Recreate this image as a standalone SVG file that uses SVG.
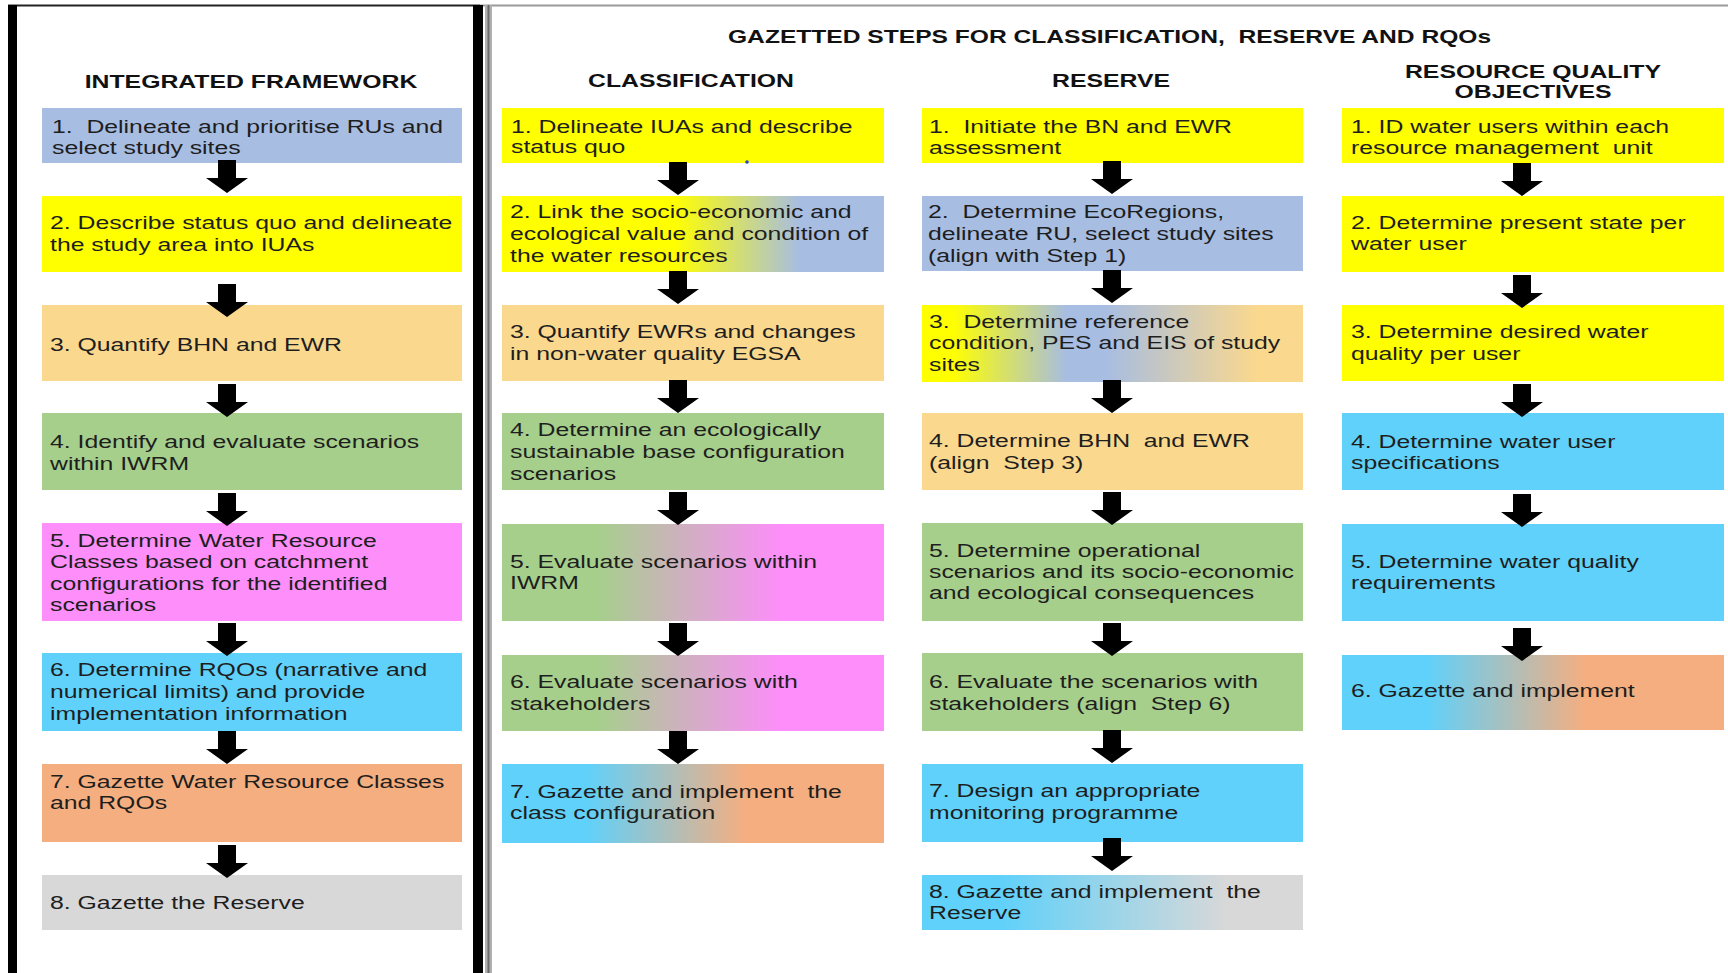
<svg xmlns="http://www.w3.org/2000/svg" xmlns:xlink="http://www.w3.org/1999/xlink" width="1728" height="973" viewBox="0 0 1728 973">
<style>
text{font-family:"Liberation Sans",Arial,sans-serif;font-size:18.5px;fill:#1e1e1e}
.h{font-weight:bold;fill:#111}
.mid{text-anchor:middle}
.bl{fill:#a7bde2}.ye{fill:#ffff00}.tn{fill:#fad88e}.gr{fill:#a6cf8c}.pk{fill:#fd8efa}.sk{fill:#5fd1fa}.or{fill:#f5ae80}.gy{fill:#d8d8d8}
.arrow{fill:#000}
</style>
<defs>
<path id="arr" d="M-9,0 H9 V18 H21 L0,33 L-21,18 H-9 Z"/>
<linearGradient id="gC2" x1="0" y1="0" x2="1" y2="0"><stop offset="0" stop-color="#ffff00"/><stop offset="0.45" stop-color="#ffff00"/><stop offset="0.78" stop-color="#a7bde2"/><stop offset="1" stop-color="#a7bde2"/></linearGradient>
<linearGradient id="gGP" x1="0" y1="0" x2="1" y2="0"><stop offset="0" stop-color="#a6cf8c"/><stop offset="0.25" stop-color="#a6cf8c"/><stop offset="0.73" stop-color="#fd8efa"/><stop offset="1" stop-color="#fd8efa"/></linearGradient>
<linearGradient id="gSO" x1="0" y1="0" x2="1" y2="0"><stop offset="0" stop-color="#5fd1fa"/><stop offset="0.22" stop-color="#5fd1fa"/><stop offset="0.64" stop-color="#f5ae80"/><stop offset="1" stop-color="#f5ae80"/></linearGradient>
<linearGradient id="gR3" x1="0" y1="0" x2="1" y2="0"><stop offset="0" stop-color="#ffff00"/><stop offset="0.08" stop-color="#ffff00"/><stop offset="0.38" stop-color="#a7bde2"/><stop offset="0.48" stop-color="#a7bde2"/><stop offset="0.88" stop-color="#fad88e"/><stop offset="1" stop-color="#fad88e"/></linearGradient>
<linearGradient id="gR8" x1="0" y1="0" x2="1" y2="0"><stop offset="0" stop-color="#5fd1fa"/><stop offset="0.2" stop-color="#5fd1fa"/><stop offset="0.8" stop-color="#d8d8d8"/><stop offset="1" stop-color="#d8d8d8"/></linearGradient>
</defs>
<rect width="1728" height="973" fill="#ffffff"/>

<g id="frame">
<line x1="8" y1="5.5" x2="480" y2="5.5" stroke="#222" stroke-width="2"/>
<line x1="480" y1="5.5" x2="1728" y2="5.5" stroke="#9a9a9a" stroke-width="2"/>
<rect x="8" y="5" width="9" height="968" fill="#000"/>
<rect x="473" y="5" width="10" height="968" fill="#000"/>
<rect x="485" y="5" width="7" height="968" fill="#b0b0b0"/>
<line x1="488.5" y1="5" x2="488.5" y2="973" stroke="#6a6a6a" stroke-width="2"/>
</g>

<g id="titles">
<text class="h" transform="translate(728,0) scale(1.33,1)" x="0" y="43" xml:space="preserve">GAZETTED STEPS FOR CLASSIFICATION,  RESERVE AND RQOs</text>
<text class="h mid" transform="translate(251,0) scale(1.34,1)" x="0" y="88">INTEGRATED FRAMEWORK</text>
<text class="h mid" transform="translate(691,0) scale(1.34,1)" x="0" y="87">CLASSIFICATION</text>
<text class="h mid" transform="translate(1111,0) scale(1.34,1)" x="0" y="87">RESERVE</text>
<text class="h mid" transform="translate(1533,0) scale(1.34,1)" x="0" y="78">RESOURCE QUALITY</text>
<text class="h mid" transform="translate(1533,0) scale(1.34,1)" x="0" y="98">OBJECTIVES</text>
</g>

<g id="if-1"><rect class="bl" x="42" y="108" width="420" height="55"/><text transform="translate(52,0) scale(1.34,1)" xml:space="preserve"><tspan x="0" y="133">1.  Delineate and prioritise RUs and</tspan><tspan x="0" y="154">select study sites</tspan></text></g>
<g id="if-2"><rect class="ye" x="42" y="196" width="420" height="76"/><text transform="translate(50,0) scale(1.34,1)"><tspan x="0" y="229">2. Describe status quo and delineate</tspan><tspan x="0" y="251">the study area into IUAs</tspan></text></g>
<g id="if-3"><rect class="tn" x="42" y="305" width="420" height="76"/><text transform="translate(50,0) scale(1.34,1)"><tspan x="0" y="351">3. Quantify BHN and EWR</tspan></text></g>
<g id="if-4"><rect class="gr" x="42" y="413" width="420" height="77"/><text transform="translate(50,0) scale(1.34,1)"><tspan x="0" y="448">4. Identify and evaluate scenarios</tspan><tspan x="0" y="470">within IWRM</tspan></text></g>
<g id="if-5"><rect class="pk" x="42" y="523" width="420" height="98"/><text transform="translate(50,0) scale(1.34,1)"><tspan x="0" y="547">5. Determine Water Resource</tspan><tspan x="0" y="568">Classes based on catchment</tspan><tspan x="0" y="590">configurations for the identified</tspan><tspan x="0" y="611">scenarios</tspan></text></g>
<g id="if-6"><rect class="sk" x="42" y="653" width="420" height="78"/><text transform="translate(50,0) scale(1.34,1)"><tspan x="0" y="676">6. Determine RQOs (narrative and</tspan><tspan x="0" y="698">numerical limits) and provide</tspan><tspan x="0" y="720">implementation information</tspan></text></g>
<g id="if-7"><rect class="or" x="42" y="764" width="420" height="78"/><text transform="translate(50,0) scale(1.34,1)"><tspan x="0" y="788">7. Gazette Water Resource Classes</tspan><tspan x="0" y="809">and RQOs</tspan></text></g>
<g id="if-8"><rect class="gy" x="42" y="875" width="420" height="55"/><text transform="translate(50,0) scale(1.34,1)"><tspan x="0" y="909">8. Gazette the Reserve</tspan></text></g>

<g id="cl-1"><rect class="ye" x="502" y="108" width="382" height="55"/><text transform="translate(511,0) scale(1.34,1)"><tspan x="0" y="133">1. Delineate IUAs and describe</tspan><tspan x="0" y="153">status quo</tspan></text></g>
<g id="cl-2"><rect fill="url(#gC2)" x="502" y="196" width="382" height="76"/><text transform="translate(510,0) scale(1.34,1)"><tspan x="0" y="218">2. Link the socio-economic and</tspan><tspan x="0" y="240">ecological value and condition of</tspan><tspan x="0" y="262">the water resources</tspan></text></g>
<g id="cl-3"><rect class="tn" x="502" y="305" width="382" height="76"/><text transform="translate(510,0) scale(1.34,1)"><tspan x="0" y="338">3. Quantify EWRs and changes</tspan><tspan x="0" y="360">in non-water quality EGSA</tspan></text></g>
<g id="cl-4"><rect class="gr" x="502" y="413" width="382" height="77"/><text transform="translate(510,0) scale(1.34,1)"><tspan x="0" y="436">4. Determine an ecologically</tspan><tspan x="0" y="458">sustainable base configuration</tspan><tspan x="0" y="480">scenarios</tspan></text></g>
<g id="cl-5"><rect fill="url(#gGP)" x="502" y="524" width="382" height="97"/><text transform="translate(510,0) scale(1.34,1)"><tspan x="0" y="568">5. Evaluate scenarios within</tspan><tspan x="0" y="589">IWRM</tspan></text></g>
<g id="cl-6"><rect fill="url(#gGP)" x="502" y="655" width="382" height="76"/><text transform="translate(510,0) scale(1.34,1)"><tspan x="0" y="688">6. Evaluate scenarios with</tspan><tspan x="0" y="710">stakeholders</tspan></text></g>
<g id="cl-7"><rect fill="url(#gSO)" x="502" y="764" width="382" height="79"/><text transform="translate(510,0) scale(1.34,1)" xml:space="preserve"><tspan x="0" y="798">7. Gazette and implement  the</tspan><tspan x="0" y="819">class configuration</tspan></text></g>
<circle cx="747" cy="162" r="1.8" fill="#2a3fd0"/>

<g id="re-1"><rect class="ye" x="922" y="108" width="381" height="55"/><text transform="translate(929,0) scale(1.34,1)" xml:space="preserve"><tspan x="0" y="133">1.  Initiate the BN and EWR</tspan><tspan x="0" y="154">assessment</tspan></text></g>
<g id="re-2"><rect class="bl" x="922" y="196" width="381" height="75"/><text transform="translate(928,0) scale(1.34,1)" xml:space="preserve"><tspan x="0" y="218">2.  Determine EcoRegions,</tspan><tspan x="0" y="240">delineate RU, select study sites</tspan><tspan x="0" y="262">(align with Step 1)</tspan></text></g>
<g id="re-3"><rect fill="url(#gR3)" x="922" y="305" width="381" height="77"/><text transform="translate(929,0) scale(1.34,1)" xml:space="preserve"><tspan x="0" y="328">3.  Determine reference</tspan><tspan x="0" y="349">condition, PES and EIS of study</tspan><tspan x="0" y="371">sites</tspan></text></g>
<g id="re-4"><rect class="tn" x="922" y="413" width="381" height="77"/><text transform="translate(929,0) scale(1.34,1)" xml:space="preserve"><tspan x="0" y="447">4. Determine BHN  and EWR</tspan><tspan x="0" y="469">(align  Step 3)</tspan></text></g>
<g id="re-5"><rect class="gr" x="922" y="523" width="381" height="98"/><text transform="translate(929,0) scale(1.34,1)"><tspan x="0" y="557">5. Determine operational</tspan><tspan x="0" y="578">scenarios and its socio-economic</tspan><tspan x="0" y="599">and ecological consequences</tspan></text></g>
<g id="re-6"><rect class="gr" x="922" y="653" width="381" height="78"/><text transform="translate(929,0) scale(1.34,1)" xml:space="preserve"><tspan x="0" y="688">6. Evaluate the scenarios with</tspan><tspan x="0" y="710">stakeholders (align  Step 6)</tspan></text></g>
<g id="re-7"><rect class="sk" x="922" y="764" width="381" height="78"/><text transform="translate(929,0) scale(1.34,1)"><tspan x="0" y="797">7. Design an appropriate</tspan><tspan x="0" y="819">monitoring programme</tspan></text></g>
<g id="re-8"><rect fill="url(#gR8)" x="922" y="875" width="381" height="55"/><text transform="translate(929,0) scale(1.34,1)" xml:space="preserve"><tspan x="0" y="898">8. Gazette and implement  the</tspan><tspan x="0" y="919">Reserve</tspan></text></g>

<g id="rq-1"><rect class="ye" x="1342" y="108" width="382" height="55"/><text transform="translate(1351,0) scale(1.34,1)" xml:space="preserve"><tspan x="0" y="133">1. ID water users within each</tspan><tspan x="0" y="154">resource management  unit</tspan></text></g>
<g id="rq-2"><rect class="ye" x="1342" y="196" width="382" height="76"/><text transform="translate(1351,0) scale(1.34,1)"><tspan x="0" y="229">2. Determine present state per</tspan><tspan x="0" y="250">water user</tspan></text></g>
<g id="rq-3"><rect class="ye" x="1342" y="305" width="382" height="76"/><text transform="translate(1351,0) scale(1.34,1)"><tspan x="0" y="338">3. Determine desired water</tspan><tspan x="0" y="360">quality per user</tspan></text></g>
<g id="rq-4"><rect class="sk" x="1342" y="413" width="382" height="77"/><text transform="translate(1351,0) scale(1.34,1)"><tspan x="0" y="448">4. Determine water user</tspan><tspan x="0" y="469">specifications</tspan></text></g>
<g id="rq-5"><rect class="sk" x="1342" y="524" width="382" height="97"/><text transform="translate(1351,0) scale(1.34,1)"><tspan x="0" y="568">5. Determine water quality</tspan><tspan x="0" y="589">requirements</tspan></text></g>
<g id="rq-6"><rect fill="url(#gSO)" x="1342" y="655" width="382" height="75"/><text transform="translate(1351,0) scale(1.34,1)"><tspan x="0" y="697">6. Gazette and implement</tspan></text></g>

<g id="connectors" class="arrow">
<use href="#arr" x="227" y="160"/>
<use href="#arr" x="227" y="284"/>
<use href="#arr" x="227" y="384"/>
<use href="#arr" x="227" y="493"/>
<use href="#arr" x="227" y="623"/>
<use href="#arr" x="227" y="731"/>
<use href="#arr" x="227" y="845"/>
<use href="#arr" x="678" y="162"/>
<use href="#arr" x="678" y="271"/>
<use href="#arr" x="678" y="380"/>
<use href="#arr" x="678" y="492"/>
<use href="#arr" x="678" y="623"/>
<use href="#arr" x="678" y="731"/>
<use href="#arr" x="1112" y="161"/>
<use href="#arr" x="1112" y="270"/>
<use href="#arr" x="1112" y="380"/>
<use href="#arr" x="1112" y="492"/>
<use href="#arr" x="1112" y="623"/>
<use href="#arr" x="1112" y="730"/>
<use href="#arr" x="1112" y="838"/>
<use href="#arr" x="1522" y="163"/>
<use href="#arr" x="1522" y="275"/>
<use href="#arr" x="1522" y="384"/>
<use href="#arr" x="1522" y="494"/>
<use href="#arr" x="1522" y="628"/>
</g>
</svg>
